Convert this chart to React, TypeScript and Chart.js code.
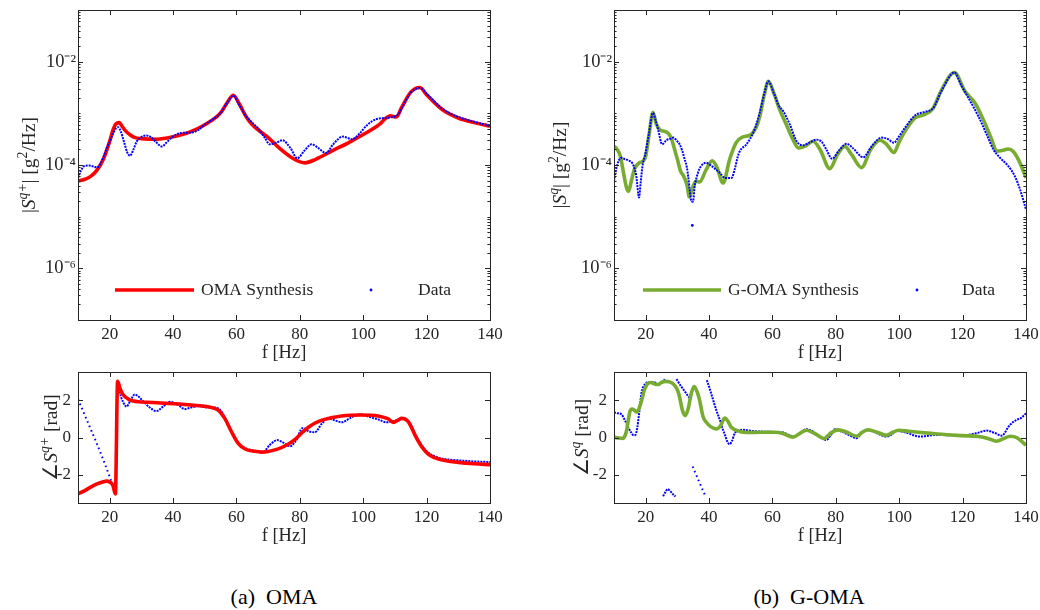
import React, { useEffect, useRef } from "react";
import { Chart, registerables } from "chart.js";

Chart.register(...registerables);

const FONT = "'Liberation Serif', 'Times New Roman', Times, serif";
const INK = "#262626";
const RED = "#ff0000";
const GREEN = "#77ac30";
const BLUE = "#0000ff";

// ---------- axes ----------
const freqMin = 10;
const freqMax = 140;
const freqTicks = [20, 40, 60, 80, 100, 120, 140];
const magMin = 1e-7;
const magMax = 1e-1;
const magTicks = [1e-6, 1e-4, 1e-2];
const phaseMin = -3.5;
const phaseMax = 3.5;
const phaseTicks = [-2, 0, 2];

type P = [number, number];

// ---------- (a) OMA : magnitude ----------
const omaSynMag: P[] = [
  [10, 4.9e-5], [12, 5.25e-5], [14, 6.03e-5], [16, 7.94e-5], [18, 1.29e-4], [20, 2.88e-4],
  [21, 4.68e-4], [22, 6.31e-4], [23, 6.61e-4], [24, 5.5e-4], [25, 4.57e-4], [26.5, 3.8e-4],
  [28, 3.39e-4], [30, 3.24e-4], [35, 3.16e-4], [40, 3.51e-4], [45, 4.27e-4], [50, 6.03e-4],
  [55, 1.02e-3], [57, 1.58e-3], [59, 2.24e-3], [61, 1.48e-3], [63, 8.71e-4], [65, 6.03e-4],
  [70, 3.39e-4], [74, 2.0e-4], [78, 1.32e-4], [81.6, 1.1e-4], [85, 1.29e-4], [90, 1.86e-4],
  [95, 2.63e-4], [100, 3.89e-4], [105, 6.03e-4], [107, 7.94e-4], [108.5, 8.91e-4], [110.5, 8.51e-4],
  [112, 1.26e-3], [115, 2.57e-3], [117.9, 3.16e-3], [120, 2.29e-3], [125, 1.17e-3], [130, 8.13e-4],
  [135, 6.61e-4], [140, 5.62e-4],
];
const omaDataMag: P[] = [
  [10, 5.62e-5], [11, 7.94e-5], [12, 9.55e-5], [13.5, 9.77e-5], [15, 9.33e-5], [16, 8.91e-5],
  [17, 1.05e-4], [18, 1.41e-4], [19, 2.09e-4], [20, 2.82e-4], [21, 3.98e-4], [22, 5.13e-4],
  [22.7, 5.37e-4], [23.5, 4.47e-4], [24.5, 2.82e-4], [25.5, 1.78e-4], [26.4, 1.51e-4], [27.5, 2.0e-4],
  [28.5, 2.82e-4], [30, 3.47e-4], [31.5, 3.72e-4], [33, 3.47e-4], [34.5, 2.82e-4], [36.5, 2.29e-4],
  [38, 2.75e-4], [40, 3.55e-4], [42.6, 4.17e-4], [46, 4.27e-4], [48, 4.79e-4], [50, 6.03e-4],
  [55, 1.02e-3], [57, 1.58e-3], [59, 2.19e-3], [61, 1.41e-3], [63, 8.91e-4], [65, 6.61e-4],
  [67, 5.01e-4], [69, 3.31e-4], [70.5, 2.51e-4], [72.5, 2.69e-4], [74.5, 3.02e-4], [77, 2.14e-4],
  [79.2, 1.35e-4], [81.5, 1.91e-4], [83.7, 2.51e-4], [86, 2.09e-4], [88.2, 1.7e-4], [90.5, 2.51e-4],
  [93.5, 3.55e-4], [96.5, 3.16e-4], [99, 4.17e-4], [101, 5.75e-4], [104.2, 7.76e-4], [108.4, 8.32e-4],
  [111, 9.55e-4], [113, 1.58e-3], [115, 2.51e-3], [117.9, 3.09e-3], [120, 2.4e-3], [125, 1.23e-3],
  [130, 8.51e-4], [135, 6.92e-4], [140, 5.75e-4],
];

// ---------- (a) OMA : phase ----------
const omaSynPhase: P[] = [
  [10, -3.01], [12, -2.85], [14, -2.65], [16, -2.48], [18, -2.36], [19, -2.33], [20, -2.38],
  [21, -2.55], [21.8, -3.01], [22.5, 3.0], [23.3, 2.6], [24.2, 2.3], [25.8, 2.06], [27.5, 1.95],
  [29, 1.91], [32, 1.88], [35, 1.86], [40.5, 1.8], [45.8, 1.73], [51, 1.64], [54.2, 1.47],
  [56.3, 1.02], [58.4, 0.32], [60.5, -0.3], [62.6, -0.6], [65.8, -0.74], [67.9, -0.78], [70, -0.75],
  [72.1, -0.66], [74, -0.55], [76.3, -0.36], [78.5, -0.1], [80.5, 0.23], [82.5, 0.52], [84.7, 0.76],
  [87, 0.93], [89, 1.02], [93.2, 1.15], [99.5, 1.2], [102, 1.19], [104.7, 1.15], [107.9, 0.99],
  [109.5, 0.81], [111, 0.93], [112.1, 1.02], [113, 1.0], [114.2, 0.85], [115.2, 0.55], [116.3, 0.14],
  [118.4, -0.48], [120.5, -0.89], [122.5, -1.08], [124.7, -1.19], [127, -1.27], [130, -1.33],
  [135, -1.4], [140, -1.45],
];
const omaDataPhaseSweep: P[] = [
  [10, 2.05], [12, 1.25], [14, 0.45], [16, -0.35], [18, -1.2], [20, -2.1], [21, -2.6], [22.1, -3.13],
];
const omaDataPhase: P[] = [
  [22.8, 2.62], [23.5, 2.2], [24.2, 1.91], [25.3, 1.65], [26.5, 1.95], [27.9, 2.3], [29, 2.2],
  [30.5, 1.95], [32.5, 1.62], [34.8, 1.41], [36.8, 1.65], [39, 1.91], [41.5, 1.75], [43.7, 1.52],
  [46, 1.62], [48, 1.68], [50, 1.62], [53, 1.6], [55, 1.45], [56.5, 1.0], [58.4, 0.32], [60.5, -0.3],
  [62.6, -0.55], [65.5, -0.7], [68.4, -0.77], [70.5, -0.4], [72.9, -0.14], [74.5, -0.25],
  [76.9, -0.47], [78.9, -0.13], [80.8, 0.5], [83, 0.32], [84.7, 0.28], [87, 0.75], [89, 1.02],
  [91, 0.92], [93.2, 0.81], [96, 1.05], [99, 1.24], [102, 1.1], [105, 0.95], [107.4, 0.81],
  [110, 0.9], [112, 1.0], [113.5, 0.95], [115, 0.7], [116.3, 0.2], [118.4, -0.4], [120.5, -0.8],
  [122.5, -1.0], [124.7, -1.12], [127, -1.18], [130, -1.22], [135, -1.28], [140, -1.31],
];

// ---------- (b) G-OMA : magnitude ----------
const gomaSynMag: P[] = [
  [10, 2.29e-4], [11, 2.0e-4], [12, 1.48e-4], [13, 7.08e-5], [14, 3.55e-5], [14.6, 3.09e-5],
  [15.5, 5.01e-5], [16.5, 8.51e-5], [18, 1.1e-4], [19, 1.17e-4], [20, 1.48e-4], [21, 3.63e-4],
  [22.3, 1.05e-3], [23.3, 6.31e-4], [24.5, 4.79e-4], [26, 4.47e-4], [27, 4.17e-4], [28, 3.39e-4],
  [29, 2.14e-4], [30, 1.29e-4], [31, 7.59e-5], [32, 6.03e-5], [33, 4.17e-5], [33.8, 2.4e-5],
  [35, 3.98e-5], [36, 4.9e-5], [37, 4.68e-5], [39, 7.94e-5], [41, 1.2e-4], [42.5, 8.91e-5],
  [44.4, 4.47e-5], [46.5, 1.29e-4], [48.5, 2.69e-4], [50.5, 3.47e-4], [53, 3.8e-4], [55, 5.62e-4],
  [56, 8.71e-4], [57.5, 2.4e-3], [58.7, 4.17e-3], [60.5, 2.4e-3], [62.3, 1.17e-3], [64.4, 6.03e-4],
  [66.5, 3.09e-4], [68.2, 2.14e-4], [70.5, 2.34e-4], [72.8, 2.88e-4], [75, 2.0e-4], [78.1, 8.51e-5],
  [80.5, 1.58e-4], [82.8, 2.29e-4], [85, 1.58e-4], [88.1, 8.91e-5], [91, 2.0e-4], [93.9, 3.02e-4],
  [96, 2.51e-4], [98.3, 1.74e-4], [100, 2.82e-4], [101.8, 4.47e-4], [105, 8.13e-4], [108.1, 9.55e-4],
  [110.7, 1.26e-3], [113.4, 2.88e-3], [117.4, 6.17e-3], [120.7, 2.69e-3], [123.9, 1.58e-3],
  [126.5, 7.59e-4], [129.2, 3.09e-4], [130.7, 1.86e-4], [132.5, 1.91e-4], [134.4, 2.04e-4],
  [136, 1.82e-4], [138.1, 1.1e-4], [140, 5.62e-5],
];
const gomaDataMag: P[] = [
  [10, 4.9e-5], [11, 1.0e-4], [12.3, 1.38e-4], [13.5, 1.29e-4], [14.5, 1.23e-4], [16, 1.02e-4],
  [17, 6.31e-5], [17.9, 2.34e-5], [18.4, 4.47e-5], [19, 9.55e-5], [20, 1.78e-4], [21, 3.98e-4],
  [22.3, 1.02e-3], [23.2, 7.08e-4], [23.9, 4.9e-4], [25.2, 2.51e-4], [26.5, 3.02e-4], [28, 3.24e-4],
  [28.8, 3.39e-4], [29.8, 2.95e-4], [30.7, 2.51e-4], [31.5, 1.91e-4], [32.3, 1.29e-4], [33, 8.91e-5],
  [33.4, 6.03e-5], [33.9, 3.31e-5], [34.4, 2.0e-5], [34.9, 1.95e-5], [35.5, 3.98e-5], [36.5, 7.08e-5],
  [37.5, 9.55e-5], [39, 1.1e-4], [40.8, 9.55e-5], [42, 8.32e-5], [43.4, 7.08e-5], [45, 5.62e-5],
  [47.1, 5.62e-5], [48.1, 8.32e-5], [49, 1.41e-4], [49.7, 1.86e-4], [51.8, 2.51e-4], [53.9, 4.17e-4],
  [55, 6.31e-4], [56, 1.05e-3], [57.5, 2.51e-3], [58.7, 4.17e-3], [60.5, 2.4e-3], [62, 1.41e-3],
  [63.4, 1.1e-3], [65.5, 6.03e-4], [67.6, 2.88e-4], [69.7, 2.4e-4], [71.8, 2.75e-4], [73.9, 3.09e-4],
  [75.5, 2.82e-4], [77, 2.0e-4], [78.8, 1.32e-4], [81, 1.91e-4], [83.4, 2.57e-4], [85.5, 2.09e-4],
  [88.6, 1.41e-4], [91.5, 2.4e-4], [94.4, 3.39e-4], [96.5, 3.16e-4], [98.3, 2.69e-4], [100, 3.63e-4],
  [101.8, 5.25e-4], [105, 9.12e-4], [108.1, 1.07e-3], [110.7, 1.26e-3], [113.4, 2.75e-3],
  [117.4, 6.17e-3], [119.5, 3.55e-3], [121.8, 2.0e-3], [125, 8.71e-4], [127.6, 3.89e-4],
  [129.7, 2.0e-4], [131.8, 1.38e-4], [134.4, 9.55e-5], [136.5, 6.03e-5], [138.1, 3.39e-5], [140, 1.38e-5],
];
const gomaDataMagOutlier: P[] = [[34.7, 6.76e-6]];

// ---------- (b) G-OMA : phase ----------
const gomaSynPhase: P[] = [
  [10, 0.02], [11.5, -0.03], [12.8, -0.05], [13.9, 0.32], [15, 1.38], [15.7, 1.52], [16.5, 1.45],
  [17.2, 1.36], [18.6, 1.91], [19.5, 2.5], [20.5, 2.85], [21.5, 2.94], [23, 2.85], [23.9, 2.83],
  [25, 2.95], [26.3, 3.0], [27.5, 2.97], [28.7, 2.86], [29.7, 2.65], [30.5, 2.3], [31.6, 1.45],
  [32.5, 1.17], [33.5, 1.6], [34.3, 2.3], [35.3, 2.72], [36.2, 2.45], [37, 2.0], [38.1, 1.11],
  [39.2, 0.8], [40.5, 0.58], [42.3, 0.46], [43.5, 0.6], [45, 1.04], [46, 0.85], [47.1, 0.53],
  [49.7, 0.32], [52.8, 0.27], [56, 0.28], [61, 0.28], [63.5, 0.2], [66.5, 0.02], [68.5, 0.2],
  [70.7, 0.39], [73.5, 0.2], [76.2, -0.05], [78.5, 0.25], [80.7, 0.41], [83.5, 0.28], [86.5, 0.07],
  [88.5, 0.3], [90.2, 0.41], [93, 0.28], [96, 0.12], [98, 0.28], [99.7, 0.39], [103, 0.33],
  [106, 0.28], [110, 0.22], [115, 0.15], [120, 0.1], [125, 0.05], [128, -0.05], [130.7, -0.2],
  [133, -0.05], [135, 0.07], [137, 0.0], [140, -0.41],
];
const gomaDataPhaseA: P[] = [
  [10, 1.34], [11, 1.3], [12.3, 1.24], [13.5, 0.9], [14.4, 0.58], [15.3, 0.3], [16.2, 0.12],
  [16.8, 0.15], [17.3, 0.48], [18, 1.4], [18.6, 2.3], [19.2, 2.7], [20, 2.87], [20.7, 2.97],
  [22.3, 2.97], [23.3, 2.9], [24.2, 2.83], [25.3, 3.0], [26, 3.12],
];
const gomaDataPhaseB: P[] = [
  [25.5, -3.14], [26.2, -2.92], [26.9, -2.76], [27.8, -2.88], [28.7, -3.05], [29.4, -3.15],
];
const gomaDataPhaseC: P[] = [[29.7, 3.12], [31, 2.78], [32.6, 2.4], [34.2, 2.02]];
const gomaDataPhaseD: P[] = [[34.8, -1.55], [36.2, -2.1], [37.6, -2.65], [39.0, -3.19]];
const gomaDataPhaseE: P[] = [
  [39.3, 3.06], [40.3, 2.55], [41.3, 2.0], [42.3, 1.45], [43.4, 0.94], [44.2, 0.5], [45, 0.14],
  [45.7, -0.2], [46.4, -0.36], [47.2, -0.2], [48.1, 0.23], [49.5, 0.38], [50.7, 0.41], [53, 0.36],
  [56, 0.32], [60, 0.3], [63.3, 0.27], [65, 0.15], [67, 0.05], [68.8, 0.25], [70.7, 0.44],
  [72.5, 0.35], [75, 0.05], [77, -0.13], [78.5, 0.15], [79.7, 0.44], [82, 0.3], [84.5, 0.1],
  [86.5, -0.04], [88, 0.2], [89.7, 0.41], [92, 0.3], [94, 0.15], [96, 0.05], [97.5, 0.15],
  [99.2, 0.35], [102, 0.27], [106.5, 0.05], [111.8, 0.14], [119.1, 0.1], [124.4, 0.23],
  [127.6, 0.37], [130, 0.25], [132.3, 0.1], [134.9, 0.67], [137, 0.94], [138.5, 1.05], [140, 1.29],
];

// ---------- helpers ----------
const SUP: Record<string, string> = {
  "-": "\u207b", "0": "\u2070", "1": "\u00b9", "2": "\u00b2", "3": "\u00b3", "4": "\u2074",
  "5": "\u2075", "6": "\u2076", "7": "\u2077", "8": "\u2078", "9": "\u2079",
};
const powLabel = (v: number) => {
  const e = Math.round(Math.log10(v));
  return "10" + String(e).split("").map((c) => SUP[c] || c).join("");
};

const toXY = (p: P[]) => p.map(([x, y]) => ({ x, y }));

const synth = (p: P[], color: string, order: number) => ({
  data: toXY(p),
  borderColor: color,
  backgroundColor: color,
  borderWidth: 3.6,
  pointRadius: 0,
  cubicInterpolationMode: "monotone",
  fill: false,
  order,
});
const meas = (p: P[], order: number, dash: number[] = [2, 1]) => ({
  data: toXY(p),
  borderColor: BLUE,
  backgroundColor: BLUE,
  borderWidth: 2,
  borderDash: dash,
  pointRadius: 0,
  cubicInterpolationMode: "monotone",
  fill: false,
  order,
});
const dots = (p: P[], order: number) => ({
  data: toXY(p),
  showLine: false,
  pointRadius: 1.4,
  pointBackgroundColor: BLUE,
  pointBorderWidth: 0,
  borderColor: BLUE,
  order,
});
const SPARSE = [1.6, 3.2];

type Seg = { t: string; sup?: boolean; it?: boolean };

function drawRich(ctx: CanvasRenderingContext2D, segs: Seg[], cx: number, cy: number, size: number) {
  ctx.save();
  ctx.translate(cx, cy);
  ctx.rotate(-Math.PI / 2);
  const supSize = size * 0.7;
  const fontOf = (s: Seg) => `${s.it ? "italic " : ""}${s.sup ? supSize : size}px ${FONT}`;
  let total = 0;
  const widths = segs.map((s) => {
    ctx.font = fontOf(s);
    const w = ctx.measureText(s.t).width;
    total += w;
    return w;
  });
  let x = -total / 2;
  ctx.fillStyle = INK;
  ctx.textBaseline = "alphabetic";
  ctx.textAlign = "left";
  segs.forEach((s, i) => {
    ctx.font = fontOf(s);
    ctx.fillText(s.t, x, s.sup ? size * 0.35 - size * 0.42 : size * 0.35);
    x += widths[i];
  });
  ctx.restore();
}

interface LegendSpec {
  color: string;
  label: string;
  lineX0: number;
  lineX1: number;
  textX: number;
  dotX: number;
  dataX: number;
  dy: number;
}

interface PanelSpec {
  key: string;
  left: number;
  top: number;
  area: { l: number; t: number; r: number; b: number };
  log: boolean;
  datasets: any[];
  yTitle: Seg[];
  yTitleX: number;
  legend?: LegendSpec;
}

const X_H = 50;
const PAD_R = 20;

function buildConfig(spec: PanelSpec): any {
  const yW = spec.area.l - spec.left;
  const padTop = spec.area.t - spec.top;
  const yTicks = spec.log ? magTicks : phaseTicks;

  const framePlugin = {
    id: "frame" + spec.key,
    afterDatasetsDraw(chart: any) {
      const { ctx, chartArea: a, scales } = chart;
      const xs = scales.x;
      const ys = scales.y;
      ctx.save();
      ctx.strokeStyle = INK;
      ctx.lineWidth = 1;
      ctx.beginPath();
      const L = 5;
      const Lm = 2.6;
      for (const v of freqTicks) {
        const px = Math.round(xs.getPixelForValue(v)) + 0.5;
        ctx.moveTo(px, a.bottom);
        ctx.lineTo(px, a.bottom - L);
        ctx.moveTo(px, a.top);
        ctx.lineTo(px, a.top + L);
      }
      for (const v of yTicks) {
        const py = Math.round(ys.getPixelForValue(v)) + 0.5;
        ctx.moveTo(a.left, py);
        ctx.lineTo(a.left + L, py);
        ctx.moveTo(a.right, py);
        ctx.lineTo(a.right - L, py);
      }
      if (spec.log) {
        for (let e = -7; e <= -2; e++) {
          for (let m = 1; m < 10; m++) {
            const v = m * Math.pow(10, e);
            const isMajor = m === 1 && yTicks.some((t) => Math.round(Math.log10(t)) === e);
            if (isMajor || (m === 1 && e === -7)) continue;
            const py = Math.round(ys.getPixelForValue(v)) + 0.5;
            ctx.moveTo(a.left, py);
            ctx.lineTo(a.left + Lm, py);
            ctx.moveTo(a.right, py);
            ctx.lineTo(a.right - Lm, py);
          }
        }
      }
      ctx.stroke();
      ctx.strokeRect(a.left + 0.5, a.top + 0.5, a.right - a.left, a.bottom - a.top);
      ctx.restore();
    },
    afterDraw(chart: any) {
      const { ctx, chartArea: a } = chart;
      drawRich(ctx, spec.yTitle, spec.yTitleX - spec.left, (a.top + a.bottom) / 2, 19.5);
      const lg = spec.legend;
      if (lg) {
        const y = a.bottom - lg.dy;
        ctx.save();
        ctx.strokeStyle = lg.color;
        ctx.lineWidth = 3.6;
        ctx.beginPath();
        ctx.moveTo(a.left + lg.lineX0, y);
        ctx.lineTo(a.left + lg.lineX1, y);
        ctx.stroke();
        ctx.fillStyle = INK;
        ctx.font = `17.5px ${FONT}`;
        ctx.textBaseline = "middle";
        ctx.textAlign = "left";
        ctx.fillText(lg.label, a.left + lg.textX, y);
        ctx.fillText("Data", a.left + lg.dataX, y);
        ctx.fillStyle = BLUE;
        ctx.beginPath();
        ctx.arc(a.left + lg.dotX, y, 1.4, 0, Math.PI * 2);
        ctx.fill();
        ctx.restore();
      }
    },
  };

  return {
    type: "line",
    data: { datasets: spec.datasets },
    options: {
      responsive: false,
      maintainAspectRatio: false,
      animation: false,
      events: [],
      layout: { padding: { top: padTop, right: PAD_R, left: 0, bottom: 0 } },
      plugins: { legend: { display: false }, tooltip: { enabled: false } },
      scales: {
        x: {
          type: "linear",
          min: freqMin,
          max: freqMax,
          grid: { display: false, drawTicks: false },
          border: { display: false },
          afterBuildTicks: (s: any) => {
            s.ticks = freqTicks.map((value) => ({ value }));
          },
          afterFit: (s: any) => {
            s.height = X_H;
          },
          ticks: {
            font: { family: FONT, size: 17 },
            color: INK,
            padding: 4,
            maxRotation: 0,
            autoSkip: false,
          },
          title: {
            display: true,
            text: "f [Hz]",
            font: { family: FONT, size: 18.5 },
            color: INK,
            padding: { top: 0, bottom: 5.5 },
          },
        },
        y: spec.log
          ? {
              type: "logarithmic",
              min: magMin,
              max: magMax,
              grid: { display: false, drawTicks: false },
              border: { display: false },
              afterBuildTicks: (s: any) => {
                s.ticks = magTicks.map((value) => ({ value }));
              },
              afterFit: (s: any) => {
                s.width = yW;
              },
              ticks: {
                font: { family: FONT, size: 18.5 },
                color: INK,
                padding: 2,
                autoSkip: false,
                callback: (v: any) => powLabel(Number(v)),
              },
            }
          : {
              type: "linear",
              min: phaseMin,
              max: phaseMax,
              grid: { display: false, drawTicks: false },
              border: { display: false },
              afterBuildTicks: (s: any) => {
                s.ticks = phaseTicks.map((value) => ({ value }));
              },
              afterFit: (s: any) => {
                s.width = yW;
              },
              ticks: {
                font: { family: FONT, size: 17 },
                color: INK,
                padding: 7,
                autoSkip: false,
              },
            },
      },
    },
    plugins: [framePlugin],
  };
}

const AREA_TOP_L = { l: 78, t: 10, r: 490, b: 320 };
const AREA_TOP_R = { l: 614, t: 10, r: 1026, b: 320 };
const AREA_BOT_L = { l: 78, t: 372, r: 490, b: 503 };
const AREA_BOT_R = { l: 614, t: 372, r: 1026, b: 503 };

const panels: PanelSpec[] = [
  {
    key: "tl",
    left: 0,
    top: -10,
    area: AREA_TOP_L,
    log: true,
    datasets: [synth(omaSynMag, RED, 2), meas(omaDataMag, 1)],
    yTitle: [
      { t: "|" }, { t: "S", it: true }, { t: "q+", sup: true, it: true }, { t: "| [g" },
      { t: "2", sup: true }, { t: "/Hz]" },
    ],
    yTitleX: 28,
    legend: { color: RED, label: "OMA Synthesis", lineX0: 37, lineX1: 116, textX: 123, dotX: 293, dataX: 340, dy: 30 },
  },
  {
    key: "tr",
    left: 520,
    top: -10,
    area: AREA_TOP_R,
    log: true,
    datasets: [synth(gomaSynMag, GREEN, 2), meas(gomaDataMag, 1), dots(gomaDataMagOutlier, 1)],
    yTitle: [
      { t: "|" }, { t: "S", it: true }, { t: "q", sup: true, it: true }, { t: "| [g" },
      { t: "2", sup: true }, { t: "/Hz]" },
    ],
    yTitleX: 559,
    legend: { color: GREEN, label: "G-OMA Synthesis", lineX0: 29, lineX1: 107, textX: 114, dotX: 303, dataX: 348, dy: 30 },
  },
  {
    key: "bl",
    left: 0,
    top: 352,
    area: AREA_BOT_L,
    log: false,
    datasets: [
      synth(omaSynPhase, RED, 1),
      meas(omaDataPhaseSweep, 2, SPARSE),
      meas(omaDataPhase, 2),
    ],
    yTitle: [{ t: "\u2220" }, { t: "S", it: true }, { t: "q+", sup: true, it: true }, { t: " [rad]" }],
    yTitleX: 50,
  },
  {
    key: "br",
    left: 520,
    top: 352,
    area: AREA_BOT_R,
    log: false,
    datasets: [
      synth(gomaSynPhase, GREEN, 1),
      meas(gomaDataPhaseA, 2),
      meas(gomaDataPhaseB, 2),
      meas(gomaDataPhaseC, 2),
      meas(gomaDataPhaseD, 2, SPARSE),
      meas(gomaDataPhaseE, 2),
    ],
    yTitle: [{ t: "\u2220" }, { t: "S", it: true }, { t: "q", sup: true, it: true }, { t: " [rad]" }],
    yTitleX: 581,
  },
];

function Panel({ spec }: { spec: PanelSpec }) {
  const ref = useRef<HTMLCanvasElement>(null);
  const w = spec.area.r - spec.left + PAD_R;
  const h = spec.area.b - spec.top + X_H;
  useEffect(() => {
    const chart = new Chart(ref.current as HTMLCanvasElement, buildConfig(spec));
    return () => chart.destroy();
  }, [spec]);
  return (
    <canvas
      ref={ref}
      width={w}
      height={h}
      style={{ position: "absolute", left: spec.left, top: spec.top, width: w, height: h }}
    />
  );
}

export default function App() {
  return (
    <div
      style={{
        position: "fixed",
        left: 0,
        top: 0,
        width: 1040,
        height: 610,
        overflow: "hidden",
        background: "#ffffff",
      }}
    >
      {panels.map((p) => (
        <Panel key={p.key} spec={p} />
      ))}
      <div
        style={{
          position: "absolute",
          left: 74,
          width: 400,
          top: 584,
          textAlign: "center",
          font: `22px ${FONT}`,
          color: "#000",
          whiteSpace: "pre",
        }}
      >
        {"(a)  OMA"}
      </div>
      <div
        style={{
          position: "absolute",
          left: 609,
          width: 400,
          top: 584,
          textAlign: "center",
          font: `22px ${FONT}`,
          color: "#000",
          whiteSpace: "pre",
        }}
      >
        {"(b)  G-OMA"}
      </div>
    </div>
  );
}
